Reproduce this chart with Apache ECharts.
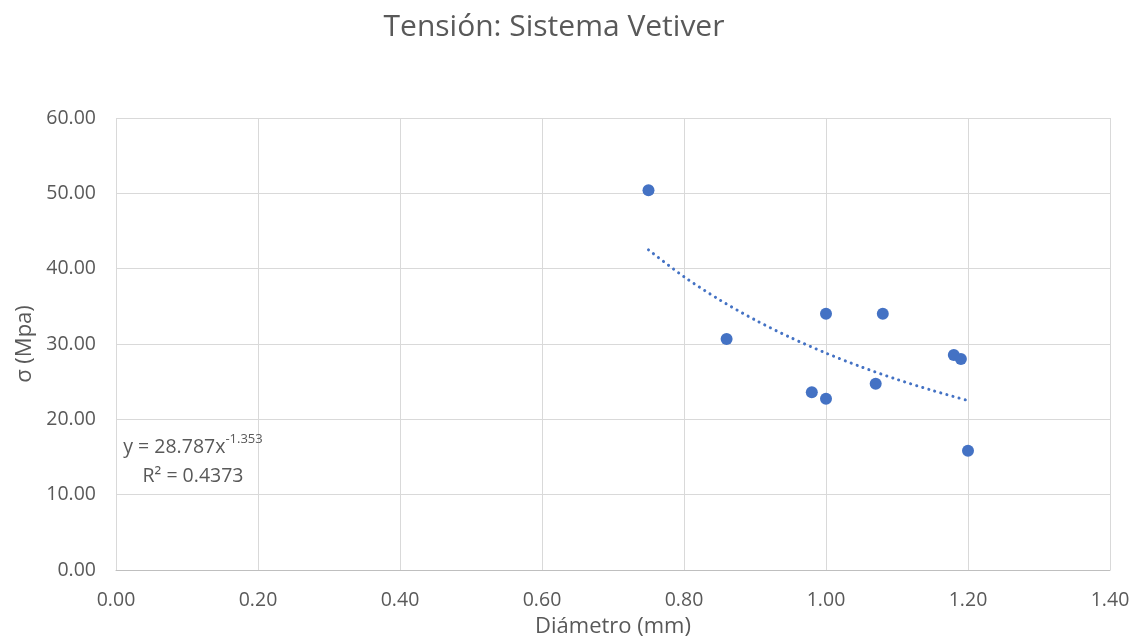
<!DOCTYPE html>
<html>
<head>
<meta charset="utf-8">
<script src="https://cdn.jsdelivr.net/npm/echarts@6/dist/echarts.min.js"></script>
<style>html,body{margin:0;padding:0;background:#fff;}#c{width:1134px;height:637px;}</style>
</head>
<body>
<div id="c"></div>
<script>
const titleText = 'Tensión: Sistema Vetiver';
const xAxisName = 'Diámetro (mm)';
const yAxisName = 'σ (Mpa)';
const diameters = [0.75, 0.86, 0.98, 1.00, 1.00, 1.07, 1.08, 1.18, 1.19, 1.20];
const tensions  = [50.40, 30.67, 23.59, 34.03, 22.74, 24.73, 34.03, 28.54, 28.01, 15.84];
const trendX = [0.75, 0.80, 0.85, 0.90, 0.95, 1.00, 1.05, 1.10, 1.15, 1.20];
const trendY = [42.49, 38.93, 35.87, 33.20, 30.86, 28.79, 26.95, 25.30, 23.83, 22.49];
const eqLine1 = 'y = 28.787x';
const eqSup = '-1.353';
const eqLine2 = 'R² = 0.4373';
const xTicks = ['0.00','0.20','0.40','0.60','0.80','1.00','1.20','1.40'];
const yTicks = ['0.00','10.00','20.00','30.00','40.00','50.00','60.00'];

const FONT = 'Open Sans';
const TXT = '#595959';
const chart = echarts.init(document.getElementById('c'), null, {renderer: 'canvas'});
chart.setOption({
  animation: false,
  backgroundColor: '#ffffff',
  grid: {left: 116, right: 24, top: 118, bottom: 67, containLabel: false, outerBoundsMode: 'none'},
  xAxis: {
    type: 'value', min: 0, max: 1.4, interval: 0.2,
    name: xAxisName, nameLocation: 'middle', nameGap: 46,
    nameTextStyle: {color: TXT, fontFamily: FONT, fontSize: 22},
    axisLine: {show: true, onZero: false, lineStyle: {color: '#BFBFBF', width: 1}},
    axisTick: {show: false},
    axisLabel: {color: TXT, fontFamily: FONT, fontSize: 19.5, margin: 20,
      formatter: v => xTicks[Math.round(v / 0.2)]},
    splitLine: {show: true, lineStyle: {color: '#D9D9D9', width: 1}}
  },
  yAxis: {
    type: 'value', min: 0, max: 60, interval: 10,
    name: yAxisName, nameLocation: 'middle', nameGap: 80, nameRotate: 90,
    nameTextStyle: {color: TXT, fontFamily: FONT, fontSize: 22},
    axisLine: {show: false},
    axisTick: {show: false},
    axisLabel: {color: TXT, fontFamily: FONT, fontSize: 19.5, margin: 20,
      formatter: v => yTicks[Math.round(v / 10)]},
    splitLine: {show: true, lineStyle: {color: '#D9D9D9', width: 1}}
  },
  graphic: [
    {type: 'text', x: 554, y: 27, style: {text: titleText, fill: TXT, font: '30px "Open Sans"', textAlign: 'center', textVerticalAlign: 'middle'}},
    {type: 'text', x: 193, y: 433, z: 100, style: {
      text: '{a|' + eqLine1 + '}{s|' + eqSup + '}\n{a|' + eqLine2 + '}',
      align: 'center', verticalAlign: 'top', fill: TXT,
      rich: {
        a: {fontFamily: FONT, fontSize: 19.5, fill: TXT, color: TXT, lineHeight: 29},
        s: {fontFamily: FONT, fontSize: 13, fill: TXT, color: TXT, lineHeight: 29, verticalAlign: 'top'}
      }
    }}
  ],
  series: [
    {
      type: 'line', data: trendX.map((x, i) => [x, trendY[i]]),
      smooth: 0.3, showSymbol: false, symbol: 'none',
      lineStyle: {color: '#4472C4', width: 3, type: [0.1, 6.2], cap: 'round'},
      z: 2, silent: true
    },
    {
      type: 'scatter', data: diameters.map((x, i) => [x, tensions[i]]),
      symbol: 'circle', symbolSize: 12,
      itemStyle: {color: '#4472C4', opacity: 1}, z: 3
    }
  ]
});
</script>
</body>
</html>
